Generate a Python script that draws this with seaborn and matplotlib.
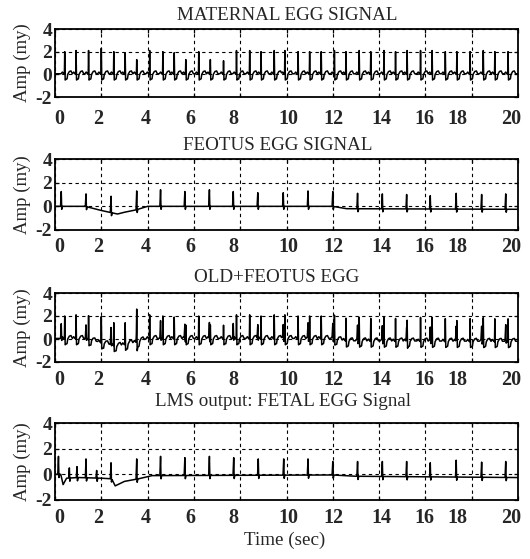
import numpy as np
import pandas as pd
import matplotlib
matplotlib.use("Agg")
import matplotlib.pyplot as plt
import seaborn as sns

# ---------------- data ----------------
# maternal R-peaks (time in s, peak amplitude)
maternal_beat_t = [0.42, 0.91, 1.45, 2.00, 2.54, 3.03, 3.53, 4.09, 4.66, 5.15,
                   5.65, 6.21, 6.71, 7.28, 7.84, 8.41, 8.90, 9.47, 9.93, 10.50,
                   11.00, 11.50, 12.07, 12.57, 13.14, 13.64, 14.21, 14.71, 15.21,
                   15.79, 16.29, 16.86, 17.36, 17.93, 18.50, 19.00, 19.57]
maternal_beat_h = [2.0, 2.1, 2.1, 2.3, 2.0, 1.9, 1.3, 2.1, 2.0, 1.9,
                   1.3, 2.0, 1.3, 1.2, 2.1, 2.1, 2.0, 2.1, 2.1, 2.0,
                   2.0, 2.0, 2.1, 2.0, 2.1, 2.0, 2.1, 2.0, 2.1,
                   2.1, 2.1, 2.0, 2.0, 2.0, 2.1, 2.0, 2.0]
maternal_base_t = [0.0, 20.0]
maternal_base_v = [0.05, 0.05]

# foetal R-peaks
fetal_beat_t = [0.27, 1.34, 2.42, 3.53, 4.56, 5.61, 6.67, 7.70, 8.76, 9.86,
                10.93, 12.00, 13.07, 14.14, 15.19, 16.21, 17.33, 18.43, 19.47]
fetal_beat_h = [1.25, 1.05, 0.85, 1.3, 1.4, 1.25, 1.4, 1.25, 1.15, 1.15,
                1.3, 1.25, 1.1, 1.05, 1.0, 0.9, 1.1, 1.0, 1.05]
fetal_base_t = [0.0, 1.3, 2.0, 2.7, 3.0, 3.5, 4.0, 12.0, 12.6, 20.0]
fetal_base_v = [0.0, 0.0, -0.35, -0.65, -0.5, -0.3, 0.0, 0.0, -0.2, -0.25]

# LMS output peaks
lms_beat_t = [0.15, 0.62, 0.95, 1.34, 1.80, 2.42, 3.53, 4.56, 5.61, 6.67, 7.72,
              8.78, 9.88, 10.93, 12.00, 13.07, 14.14, 15.19, 16.21, 17.33,
              18.43, 19.47]
lms_beat_h = [1.4, 0.5, 0.6, 1.2, 0.3, 0.9, 1.2, 1.4, 1.3, 1.4, 1.3,
              1.2, 1.2, 1.2, 1.0, 1.0, 1.0, 1.0, 0.9, 1.1,
              0.95, 1.0]
lms_base_t = [0.0, 0.25, 0.35, 0.5, 1.0, 2.0, 2.45, 2.6, 3.0, 3.6, 4.2, 12.0, 13.0, 20.0]
lms_base_v = [0.0, 0.0, -0.8, -0.3, -0.25, -0.3, -0.35, -0.9, -0.55, -0.35, -0.1, -0.05, -0.15, -0.25]

titles = ["MATERNAL EGG SIGNAL", "FEOTUS EGG SIGNAL", "OLD+FEOTUS EGG",
          "LMS output: FETAL EGG Signal"]
x_tick_labels = ["0", "2", "4", "6", "8", "10", "12", "14", "16", "18", "20"]
y_ticks = [-2, 0, 2, 4]

# ---------------- waveform shapes (style) ----------------
M_OFF = [-0.16, -0.10, -0.05, -0.015, 0.0, 0.02, 0.05, 0.10, 0.13, 0.20, 0.27, 0.33]
M_REL = [0.0, 0.15, 0.0, -0.05, None, -0.55, -0.5, -0.45, -0.05, 0.2, 0.25, 0.0]
F_OFF = [-0.03, 0.0, 0.02, 0.05]
F_REL = [0.0, None, -0.25, 0.0]


def vertex_times(base_t, beat_t, offs):
    t = list(base_t)
    for b in beat_t:
        t += [b + o for o in offs]
    return t


def evaluate(t, base_t, base_v, beat_t, beat_h, offs, rel):
    t = np.asarray(t, float)
    v = np.interp(t, base_t, base_v)
    for b, h in zip(beat_t, beat_h):
        peak = h - np.interp(b, base_t, base_v)
        shape = [peak if r is None else r for r in rel]
        v = v + np.interp(t, np.asarray(offs) + b, shape, left=0.0, right=0.0)
    return v


tm = vertex_times(maternal_base_t, maternal_beat_t, M_OFF)
tf = vertex_times(fetal_base_t, fetal_beat_t, F_OFF)
tl = vertex_times(lms_base_t, lms_beat_t, F_OFF)

t_m = np.unique(np.clip(tm, 0, 20))
t_f = np.unique(np.clip(tf, 0, 20))
t_c = np.unique(np.clip(tm + tf, 0, 20))
t_l = np.unique(np.clip(tl, 0, 20))

mat = lambda t: evaluate(t, maternal_base_t, maternal_base_v, maternal_beat_t, maternal_beat_h, M_OFF, M_REL)
fet = lambda t: evaluate(t, fetal_base_t, fetal_base_v, fetal_beat_t, fetal_beat_h, F_OFF, F_REL)
lms = lambda t: evaluate(t, lms_base_t, lms_base_v, lms_beat_t, lms_beat_h, F_OFF, F_REL)

frames = [
    pd.DataFrame({"t": t_m, "v": mat(t_m)}),
    pd.DataFrame({"t": t_f, "v": fet(t_f)}),
    pd.DataFrame({"t": t_c, "v": mat(t_c) + fet(t_c)}),
    pd.DataFrame({"t": t_l, "v": lms(t_l)}),
]

# ---------------- drawing ----------------
sns.set_theme(style="white")
plt.rcParams["font.family"] = ["Liberation Serif", "DejaVu Serif"]

W, H = 530, 559
fig = plt.figure(figsize=(W / 100, H / 100), dpi=100)

# axes boxes in pixels: (top, bottom)
boxes = [(29, 97), (159, 230), (293, 362), (423, 500)]
left_px, right_px = 55, 518
title_pos = [(287, 15), (278, 145), (277, 278), (283, 402)]
label_pos = [0.2, 1.85, 3.93, 5.85, 7.7, 10.1, 12.03, 14.1, 15.97, 17.4, 19.7]
xpads = [8.5, 5.0, 6.0, 5.5]

for i, (df, (top, bot)) in enumerate(zip(frames, boxes)):
    ax = fig.add_axes([left_px / W, 1 - bot / H, (right_px - left_px) / W, (bot - top) / H])
    sns.lineplot(data=df, x="t", y="v", ax=ax, color="black", lw=1.1,
                 estimator=None, sort=False)
    ax.set_xlim(0, 20)
    ax.set_ylim(-2, 4)
    ax.set_xlabel("")
    ax.set_ylabel("")
    ax.set_xticks(np.arange(0, 21, 2))
    ax.set_xticklabels([])
    ax.set_xticks(label_pos, minor=True)
    ax.set_xticklabels(x_tick_labels, minor=True, fontsize=14.5, fontweight="bold")
    ax.set_yticks(y_ticks)
    ax.set_yticklabels([str(v) for v in y_ticks], fontsize=14, fontweight="bold")
    ax.tick_params(axis="both", which="major", direction="in", length=3,
                   width=0.9, color="black", left=True, bottom=True, top=True, right=True)
    ax.tick_params(axis="x", which="minor", length=0, pad=xpads[i])
    ax.tick_params(axis="y", which="major", pad=2)
    ax.grid(True, which="major", color="black", lw=0.8, ls=(0, (3, 3)))
    for s in ax.spines.values():
        s.set_color("black")
        s.set_linewidth(1.3)
    tx, ty = title_pos[i]
    fig.text(tx / W, 1 - ty / H, titles[i], ha="center", va="center", fontsize=13.7)
    fig.text(22 / W, 1 - ((top + bot) / 2) / H, "Amp (my)", rotation=90,
             ha="center", va="center", fontsize=13.5)

fig.text(285 / W, 1 - 540 / H, "Time (sec)", ha="center", va="center", fontsize=13.7)

fig.savefig("out.png", dpi=100)
